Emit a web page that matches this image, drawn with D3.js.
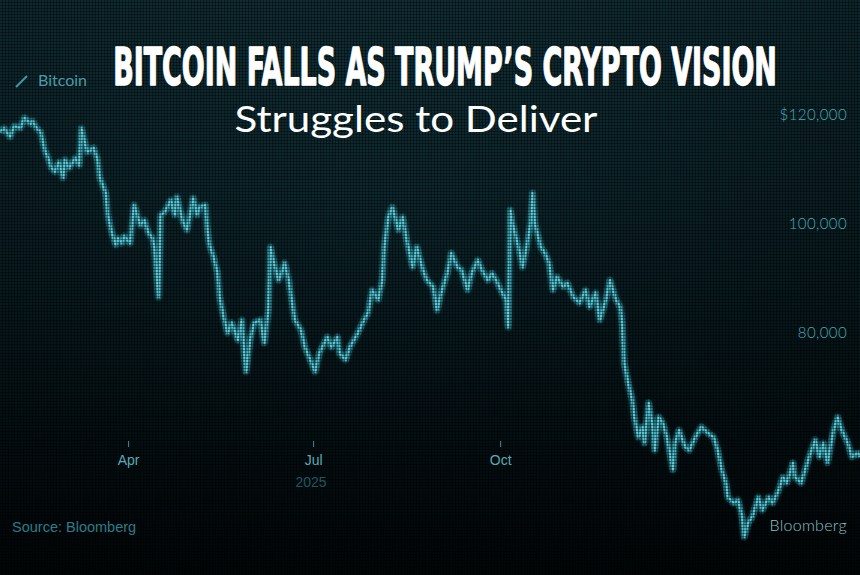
<!DOCTYPE html>
<html>
<head>
<meta charset="utf-8">
<script src="https://cdn.jsdelivr.net/npm/d3@7"></script>
<style>
html,body{margin:0;padding:0;background:#030a0c;}
svg{display:block;}
</style>
</head>
<body>
<svg id="chart" width="860" height="575"></svg>
<script>
// ---- Data ----
const dates = [
"2025-01-28","2025-01-30","2025-02-02","2025-02-04","2025-02-07","2025-02-09","2025-02-12","2025-02-13","2025-02-15","2025-02-17",
"2025-02-19","2025-02-21","2025-02-22","2025-02-24","2025-02-26","2025-02-28","2025-03-01","2025-03-03","2025-03-06","2025-03-08",
"2025-03-09","2025-03-11","2025-03-12","2025-03-15","2025-03-17","2025-03-18","2025-03-21","2025-03-22","2025-03-24","2025-03-26",
"2025-03-27","2025-03-29","2025-03-30","2025-04-02","2025-04-04","2025-04-07","2025-04-09","2025-04-11","2025-04-13","2025-04-14",
"2025-04-16","2025-04-17","2025-04-19","2025-04-22","2025-04-24","2025-04-25","2025-04-28","2025-04-30","2025-05-03","2025-05-05",
"2025-05-06","2025-05-09","2025-05-10","2025-05-11","2025-05-13","2025-05-15","2025-05-16","2025-05-18","2025-05-20","2025-05-22",
"2025-05-25","2025-05-27","2025-05-28","2025-05-29","2025-05-31","2025-06-02","2025-06-05","2025-06-07","2025-06-09","2025-06-10",
"2025-06-11","2025-06-14","2025-06-16","2025-06-17","2025-06-19","2025-06-21","2025-06-22","2025-06-25","2025-06-27","2025-06-29",
"2025-07-02","2025-07-04","2025-07-06","2025-07-08","2025-07-10","2025-07-13","2025-07-14","2025-07-17","2025-07-19","2025-07-23",
"2025-07-26","2025-07-28","2025-07-30","2025-08-02","2025-08-04","2025-08-05","2025-08-07","2025-08-09","2025-08-12","2025-08-14",
"2025-08-16","2025-08-19","2025-08-21","2025-08-24","2025-08-26","2025-08-29","2025-08-31","2025-09-02","2025-09-05","2025-09-07",
"2025-09-10","2025-09-12","2025-09-15","2025-09-17","2025-09-20","2025-09-22","2025-09-25","2025-09-27","2025-09-29","2025-10-02",
"2025-10-04","2025-10-05","2025-10-06","2025-10-07","2025-10-10","2025-10-12","2025-10-14","2025-10-16","2025-10-17","2025-10-18",
"2025-10-21","2025-10-23","2025-10-25","2025-10-27","2025-10-29","2025-11-01","2025-11-03","2025-11-06","2025-11-09","2025-11-12",
"2025-11-14","2025-11-17","2025-11-19","2025-11-22","2025-11-24","2025-11-27","2025-11-29","2025-11-30","2025-12-01","2025-12-03",
"2025-12-05","2025-12-06","2025-12-08","2025-12-10","2025-12-11","2025-12-13","2025-12-15","2025-12-16","2025-12-18","2025-12-20",
"2025-12-22","2025-12-25","2025-12-26","2025-12-28","2025-12-31","2026-01-02","2026-01-05","2026-01-08","2026-01-11","2026-01-14",
"2026-01-16","2026-01-18","2026-01-20","2026-01-21","2026-01-24","2026-01-26","2026-01-28","2026-01-29","2026-01-31","2026-02-02",
"2026-02-05","2026-02-07","2026-02-10","2026-02-12","2026-02-15","2026-02-17","2026-02-19","2026-02-22","2026-02-23","2026-02-26",
"2026-02-28","2026-03-02","2026-03-05","2026-03-07","2026-03-09","2026-03-11","2026-03-14","2026-03-16","2026-03-18","2026-03-21",
"2026-03-23","2026-03-26","2026-03-27"
];
const prices = [
116700,117400,115800,117800,117400,119300,118200,118700,117400,116700,
113400,111600,110300,109400,111200,108300,111600,110100,111900,110600,
117400,114300,113000,113800,111600,108400,105500,101500,98200,96000,
97200,96300,97600,96300,103300,99600,100500,98200,97200,95400,
86400,101500,102000,104200,101500,104800,100200,98700,104600,101500,
102900,103300,98700,96000,93800,90800,86400,82800,79800,81700,
78500,82200,76700,72700,78500,81700,82200,78000,84000,95600,
93800,89500,91400,92700,89500,84600,82200,80400,77200,75400,
72700,76100,77600,79100,77200,79100,76100,74900,77200,79800,
82200,83500,87700,85900,89500,95600,101100,102900,98700,101100,
96900,91900,95600,91400,89500,88300,84000,87200,90800,94500,
91900,91400,87700,90800,93200,91400,89500,90800,89500,87200,
85900,80900,102400,100000,95600,91900,95600,100000,105500,100000,
95600,94500,92700,87700,90100,88300,89000,86400,85300,87700,
84600,87200,82200,85900,89500,85900,84600,81700,74300,70600,
67500,64400,60700,62600,59600,67000,62600,58300,64400,63300,
60700,54700,59600,62000,58900,58300,60700,62600,61500,60700,
58300,54700,52300,49700,48600,49200,46100,42400,45000,46100,
49700,47300,49700,48600,51000,53400,52300,56000,53400,52300,
54700,57100,60200,57100,59600,56000,62000,64400,62000,59600,
57100,57800,57100
];
const yTicks = [80000, 100000, 120000];
const xTicks = ["2025-04-01", "2025-07-01", "2025-10-01"];
const xTickLabels = ["Apr", "Jul", "Oct"];
const yearLabel = "2025";
const seriesName = "Bitcoin";
const titleText = "BITCOIN FALLS AS TRUMP\u2019S CRYPTO VISION";
const subtitleText = "Struggles to Deliver";
const sourceText = "Source: Bloomberg";
const brandText = "Bloomberg";
const xDomain = ["2025-01-28", "2026-03-27"];
const yDomain = [40000, 120000];

// ---- Drawing ----
const W = 860, H = 575;
const parse = d3.utcParse("%Y-%m-%d");
const data = dates.map((d, i) => ({date: parse(d), value: prices[i]}));

const svg = d3.select("#chart");
const defs = svg.append("defs");

const bg = defs.append("linearGradient").attr("id", "bg").attr("x1", 0).attr("y1", 0).attr("x2", 0).attr("y2", 1);
bg.append("stop").attr("offset", "0%").attr("stop-color", "#12363e");
bg.append("stop").attr("offset", "35%").attr("stop-color", "#0c282e");
bg.append("stop").attr("offset", "70%").attr("stop-color", "#06161b");
bg.append("stop").attr("offset", "100%").attr("stop-color", "#02080a");

const vg = defs.append("radialGradient").attr("id", "vig").attr("cx", "45%").attr("cy", "35%").attr("r", "75%");
vg.append("stop").attr("offset", "0%").attr("stop-color", "#000").attr("stop-opacity", 0);
vg.append("stop").attr("offset", "100%").attr("stop-color", "#000").attr("stop-opacity", 0.35);

const pat = defs.append("pattern").attr("id", "led").attr("width", 3).attr("height", 3).attr("patternUnits", "userSpaceOnUse");
pat.append("rect").attr("x", 0).attr("y", 2).attr("width", 3).attr("height", 1).attr("fill", "#000").attr("opacity", 0.4);
pat.append("rect").attr("x", 2).attr("y", 0).attr("width", 1).attr("height", 3).attr("fill", "#000").attr("opacity", 0.4);

const glow = defs.append("filter").attr("id", "glow").attr("x", "-10%").attr("y", "-10%").attr("width", "120%").attr("height", "120%");
glow.append("feGaussianBlur").attr("stdDeviation", 2.2).attr("result", "b");
const fm = glow.append("feMerge");
fm.append("feMergeNode").attr("in", "b");
fm.append("feMergeNode").attr("in", "SourceGraphic");

svg.append("rect").attr("width", W).attr("height", H).attr("fill", "url(#bg)");
svg.append("rect").attr("width", W).attr("height", H).attr("fill", "url(#vig)");

const x = d3.scaleUtc().domain(xDomain.map(parse)).range([0, W]);
const y = d3.scaleLinear().domain(yDomain).range([550, 114]);

const line = d3.line().x(d => x(d.date)).y(d => y(d.value)).curve(d3.curveLinear);

const g = svg.append("g");
g.append("path").datum(data).attr("d", line)
  .attr("fill", "none").attr("stroke", "#2aa6b8").attr("stroke-opacity", 0.35)
  .attr("stroke-width", 7).attr("stroke-linejoin", "round");
g.append("path").datum(data).attr("d", line)
  .attr("fill", "none").attr("stroke", "#45bccc").attr("stroke-width", 2.8)
  .attr("stroke-linejoin", "round").attr("filter", "url(#glow)");
g.append("path").datum(data).attr("d", line)
  .attr("fill", "none").attr("stroke", "#9be3ea").attr("stroke-opacity", 0.45).attr("stroke-width", 1)
  .attr("stroke-linejoin", "round");

// LED texture
svg.append("rect").attr("width", W).attr("height", H).attr("fill", "url(#led)");

// Y axis labels (right side)
const yAxis = d3.axisRight(y).tickValues(yTicks).tickSize(0)
  .tickFormat(v => v === 120000 ? "$" + d3.format(",")(v) : d3.format(",")(v));
const ya = svg.append("g").attr("transform", "translate(847,0)").call(yAxis);
ya.select(".domain").remove();
ya.selectAll("text").attr("x", 0).attr("dx", 0).attr("text-anchor", "end")
  .attr("fill", "#4aabb8").attr("font-family", "Lato, 'Open Sans', sans-serif")
  .attr("font-size", 15).attr("font-weight", 300).attr("letter-spacing", 0.4).attr("dy", "0.35em");

// X axis
const xAxis = d3.axisBottom(x).tickValues(xTicks.map(parse)).tickSize(6)
  .tickFormat((d, i) => xTickLabels[i]);
const xa = svg.append("g").attr("transform", "translate(0,441)").call(xAxis);
xa.select(".domain").remove();
xa.selectAll("line").attr("stroke", "#3f8d99").attr("stroke-width", 1);
xa.selectAll("text").attr("fill", "#5aaab6").attr("font-family", "'Liberation Sans', Arial, sans-serif")
  .attr("font-size", 14).attr("y", 14).attr("dy", "0.71em");

svg.append("text").attr("x", x(parse("2025-06-30"))).attr("y", 487).attr("text-anchor", "middle")
  .attr("fill", "#1d5963").attr("font-family", "'Liberation Sans', Arial, sans-serif").attr("font-size", 14)
  .text(yearLabel);

// Legend
svg.append("line").attr("x1", 16).attr("y1", 87).attr("x2", 27).attr("y2", 76)
  .attr("stroke", "#3c9aa8").attr("stroke-width", 2);
svg.append("text").attr("x", 38).attr("y", 86).attr("fill", "#4a9ba7")
  .attr("font-family", "Lato, 'Open Sans', sans-serif").attr("font-size", 16).text(seriesName);

// Title (scaled horizontally to the measured width)
function fitText(sel, targetW) {
  const len = sel.node().getComputedTextLength();
  return targetW / len;
}
const title = svg.append("text").attr("x", 0).attr("y", 0).attr("text-anchor", "middle")
  .attr("fill", "#ffffff").attr("stroke", "#ffffff").attr("stroke-width", 1.4).attr("stroke-linejoin", "round")
  .attr("font-family", "'Liberation Sans Narrow', 'DejaVu Sans Condensed', sans-serif")
  .attr("font-weight", 700).attr("font-size", 51)
  .text(titleText);
const tsx = fitText(title, 664);
title.attr("transform", `translate(445,85) scale(${tsx},1)`);

const sub = svg.append("text").attr("x", 0).attr("y", 0).attr("text-anchor", "middle")
  .attr("fill", "#ffffff").attr("font-family", "Lato, 'Open Sans', sans-serif")
  .attr("font-weight", 400).attr("font-size", 36)
  .text(subtitleText);
const ssx = fitText(sub, 363);
sub.attr("transform", `translate(416,132) scale(${ssx},1)`);

// Source & brand
svg.append("text").attr("x", 12).attr("y", 532).attr("fill", "#2d7c88")
  .attr("font-family", "'Liberation Sans', Arial, sans-serif").attr("font-size", 14.5).text(sourceText);
svg.append("text").attr("x", 847).attr("y", 531).attr("text-anchor", "end").attr("fill", "#8cc0c6")
  .attr("font-family", "Lato, 'Open Sans', sans-serif").attr("font-size", 16).attr("font-weight", 300)
  .attr("letter-spacing", 0.3).text(brandText);
</script>
</body>
</html>
